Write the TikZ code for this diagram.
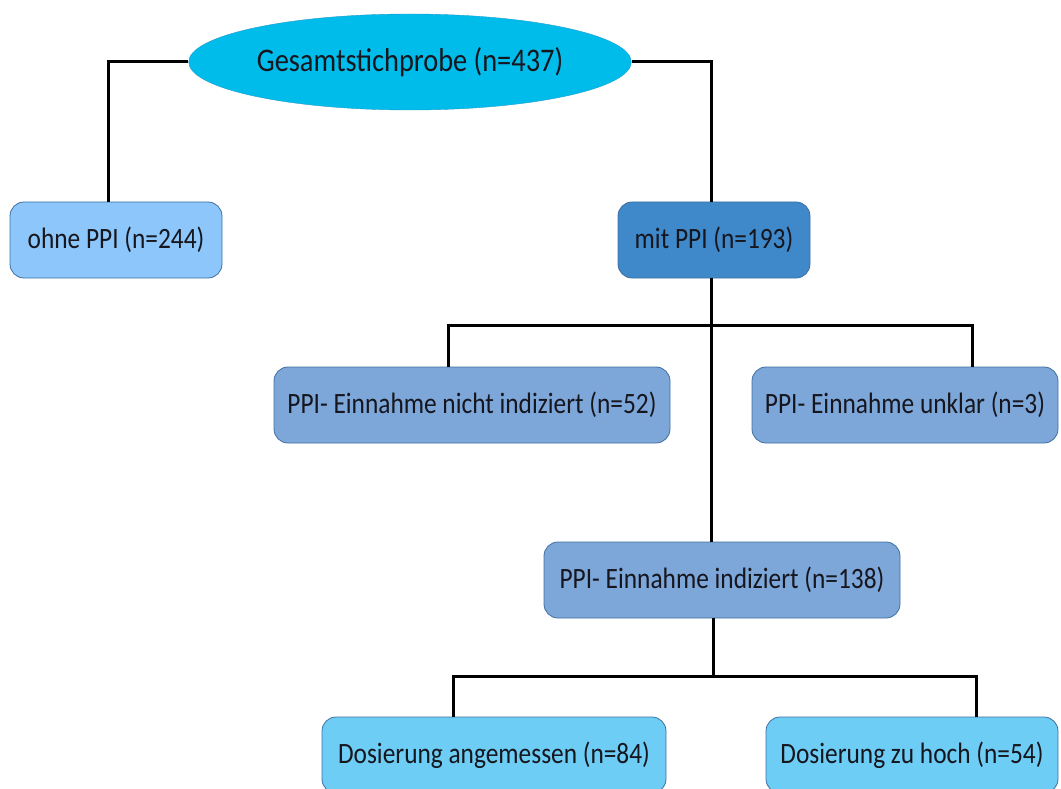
\documentclass[tikz,border=0pt]{standalone}
\usepackage{fontspec}
\setmainfont{Carlito}[FakeStretch=0.86]
\usepackage{tikz}
\usetikzlibrary{positioning, calc, shapes.geometric}

\definecolor{topfill}{HTML}{00BCEB}
\definecolor{topline}{HTML}{1E9CCB}
\definecolor{ohnefill}{HTML}{8CC6FA}
\definecolor{mitfill}{HTML}{3F88C9}
\definecolor{midfill}{HTML}{7DA6D9}
\definecolor{dosfill}{HTML}{6DCDF5}
\definecolor{boxline}{HTML}{4070A0}
\definecolor{textdark}{HTML}{16161E}

\begin{document}
\begin{tikzpicture}[
  x=1pt, y=1pt,
  font=\fontsize{29.5}{34}\selectfont, text=textdark,
  block/.style = {draw=boxline, line width=0.8pt, rounded corners=14pt, minimum height=76pt, align=center, inner sep=0pt},
  link/.style = {draw=black, line width=3pt}
]
  \useasboundingbox (0,0) rectangle (1061,-789);

  % Gesamtstichprobe
  \node[ellipse, draw=topline, fill=topfill, minimum width=440pt, minimum height=96pt, font=\fontsize{33}{38}\selectfont] (gesamt) at (410,-62) {Gesamtstichprobe (n=437)};

  % erste Ebene
  \node[block, fill=ohnefill, minimum width=212pt] (ohne) at (116,-240) {ohne PPI (n=244)};
  \node[block, fill=mitfill, minimum width=192pt] (mit) at (714,-240) {mit PPI (n=193)};

  % zweite Ebene
  \node[block, fill=midfill, minimum width=396pt] (nicht) at (472,-405) {PPI- Einnahme nicht indiziert (n=52)};
  \node[block, fill=midfill, minimum width=306pt] (unklar) at (905,-405) {PPI- Einnahme unklar (n=3)};
  \node[block, fill=midfill, minimum width=356pt] (indiz) at (722,-580) {PPI- Einnahme indiziert (n=138)};

  % Dosierung
  \node[block, fill=dosfill, minimum width=344pt] (angem) at (494,-755) {Dosierung angemessen (n=84)};
  \node[block, fill=dosfill, minimum width=292pt] (hoch) at (912,-755) {Dosierung zu hoch (n=54)};

  % Verbindungen von oben
  \draw[link] (gesamt.west) -| ([xshift=-8pt]ohne.north);
  \draw[link] (gesamt.east) -| ([xshift=-3pt]mit.north);

  % mit PPI nach unten
  \coordinate (bus1) at ([xshift=-3pt]mit.south |- 0,-325);
  \draw[link] ([xshift=-3pt]mit.south) -- ([xshift=-3pt]mit.south |- indiz.north);
  \draw[link] ([xshift=-24pt]nicht.north) |- (bus1) -| ([xshift=67pt]unklar.north);

  % indiziert nach unten
  \coordinate (bus2) at ([xshift=-9pt]indiz.south |- 0,-676);
  \draw[link] ([xshift=-9pt]indiz.south) -- (bus2);
  \draw[link] ([xshift=-41pt]angem.north) |- (bus2) -| ([xshift=64pt]hoch.north);
\end{tikzpicture}
\end{document}
